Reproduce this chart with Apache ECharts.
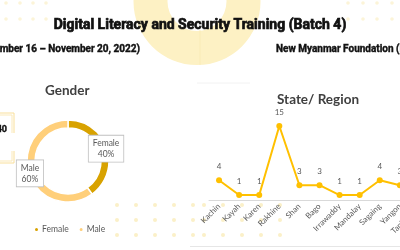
<!DOCTYPE html>
<html><head><meta charset="utf-8">
<script src="https://cdn.jsdelivr.net/npm/echarts@6/dist/echarts.min.js"></script>
<style>html,body{margin:0;padding:0;background:#fff}#c{width:400px;height:250px}</style>
</head><body><div id="c"></div>
<script>
const genderNames = ['Female', 'Male'];
const genderValues = [40, 60];
const regions = ['Kachin', 'Kayah', 'Karen', 'Rakhine', 'Shan', 'Bago', 'Irrawaddy', 'Mandalay', 'Sagaing', 'Yangon', 'Tanintharyi'];
const regionValues = [4, 1, 1, 15, 3, 3, 1, 1, 4, 3, 1];
const mainTitle = 'Digital Literacy and Security Training (Batch 4)';
const dateText = '(November 16 – November 20, 2022)';
const orgText = 'New Myanmar Foundation (NMF)';

const chart = echarts.init(document.getElementById('c'), null, {renderer: 'canvas'});
const dotColor = '#FBF0C8';
const dots = [];
function addDots(xs, ys, r, color) {
  xs.forEach(x => ys.forEach(y => dots.push({type: 'circle', shape: {cx: x, cy: y, r: r}, style: {fill: color}, z: -5})));
}
addDots([6, 20, 33, 46], [3, 19], 1.8, '#FCF4D8');
addDots([348, 363, 377, 392], [3, 19], 1.8, '#FCF4D8');
addDots([117, 136, 155, 174, 193], [205, 220, 235], 2, dotColor);
addDots([204, 223, 242, 261, 280], [205, 220, 235], 2, dotColor);

const heavy = {fill: '#111', stroke: '#111', lineWidth: 0.7};
const gfx = [
  {type: 'ring', shape: {cx: 197, cy: 1.5, r: 63.5, r0: 29.5}, style: {fill: '#FDF1C4'}, z: -10},
  {type: 'line', shape: {x1: 200, y1: 30, x2: 200, y2: 65}, style: {stroke: '#F8E8B0', lineWidth: 0.6}, z: -9},
  ...dots,
  {type: 'rect', shape: {x: -60, y: 113, width: 74, height: 50}, style: {fill: 'none', stroke: '#F9DF9A', lineWidth: 1}},
  {type: 'rect', shape: {x: -60, y: 115, width: 72, height: 46}, style: {fill: 'none', stroke: '#FBE9B8', lineWidth: 1}},
  {type: 'rect', shape: {x: 0, y: 133, width: 16, height: 18}, style: {fill: '#fff'}},
  {type: 'text', style: Object.assign({x: 7, y: 130, text: '40', font: 'bold 9px Roboto', align: 'right', verticalAlign: 'middle'}, heavy, {lineWidth: 0.4})},
  {type: 'line', shape: {x1: 197, y1: 83, x2: 250, y2: 83}, style: {stroke: '#F2F2F2', lineWidth: 1}},
  {type: 'line', shape: {x1: 190, y1: 246.5, x2: 400, y2: 246.5}, style: {stroke: '#E6E6E6', lineWidth: 1}},
  {type: 'text', style: Object.assign({x: 200, y: 25, text: mainTitle, font: 'bold 14px Roboto', align: 'center', verticalAlign: 'middle'}, heavy)},
  {type: 'text', style: Object.assign({x: 140, y: 49, text: dateText, font: 'bold 10px Roboto', align: 'right', verticalAlign: 'middle'}, heavy, {lineWidth: 0.4})},
  {type: 'text', style: Object.assign({x: 276, y: 49, text: orgText, font: 'bold 10px Roboto', align: 'left', verticalAlign: 'middle'}, heavy, {lineWidth: 0.4})},
  {type: 'text', style: {x: 45, y: 91, text: 'Gender', fill: '#404040', font: 'bold 13.5px Lato', align: 'left', verticalAlign: 'middle'}},
  {type: 'text', style: {x: 277, y: 100, text: 'State/ Region', fill: '#404040', font: 'bold 13.5px Lato', align: 'left', verticalAlign: 'middle'}}
];

chart.setOption({
  animation: false,
  textStyle: {fontFamily: 'Lato'},
  graphic: gfx,
  color: ['#D8A200', '#FFCF7A'],
  legend: {
    data: genderNames, left: 33, top: 225, padding: 0, icon: 'circle', itemWidth: 5, itemHeight: 5, itemGap: 9,
    textStyle: {fontSize: 8.5, color: '#595959', fontFamily: 'Lato', padding: [0, 0, 0, -2]}
  },
  grid: {left: 209, width: 221, top: 126, bottom: 50, outerBoundsMode: 'none'},
  xAxis: {
    type: 'category', data: regions, boundaryGap: true,
    axisLine: {lineStyle: {color: '#D9D9D9'}}, axisTick: {show: false},
    axisLabel: {rotate: 45, fontSize: 8, color: '#595959', interval: 0, margin: 5, fontFamily: 'Lato'}
  },
  yAxis: {type: 'value', min: 0, max: 15, show: false, splitLine: {show: false}},
  series: [
    {
      type: 'pie', center: [68, 161], radius: [33, 41], startAngle: 90,
      data: genderNames.map((n, i) => ({name: n, value: genderValues[i]})),
      itemStyle: {borderColor: '#fff', borderWidth: 1.5},
      label: {
        position: 'inside', formatter: '{b}\n{d}%', color: '#595959', fontSize: 8.5, lineHeight: 11,
        backgroundColor: '#fff', borderColor: '#BFBFBF', borderWidth: 0.8, padding: [2, 4], fontFamily: 'Lato'
      },
      labelLine: {show: false}, emphasis: {disabled: true}
    },
    {
      type: 'line', data: regionValues, symbol: 'circle', symbolSize: 6,
      lineStyle: {color: '#FFC000', width: 2}, itemStyle: {color: '#FFC000'},
      label: {show: true, position: 'top', distance: 7, fontSize: 8, color: '#595959', fontFamily: 'Lato'},
      emphasis: {disabled: true}
    }
  ]
});
</script></body></html>
